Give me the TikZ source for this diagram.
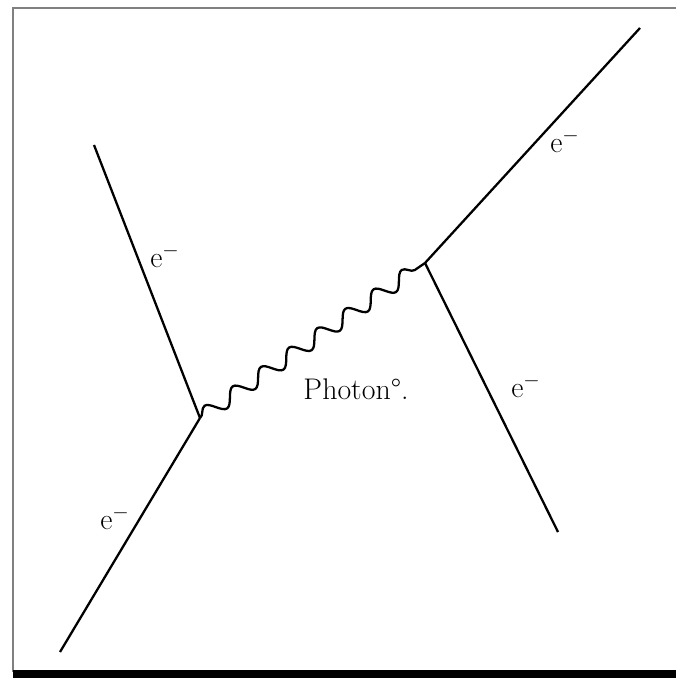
\documentclass[tikz,border=0pt]{standalone}
\usepackage{fontspec}
\usetikzlibrary{decorations.pathmorphing}

\begin{document}
\begin{tikzpicture}[
    x=0.02cm, y=-0.02cm,
    fermion/.style={draw, line width=1.3pt},
    photon/.style={draw, line width=1.3pt, decorate,
        decoration={snake, segment length=34.2*0.02cm, amplitude=0.15cm}},
    label/.style={font=\fontsize{17}{20}\selectfont, inner sep=0pt}
]
\useasboundingbox (0,0) rectangle (676,678);

% Frame
\draw[gray, line width=1pt] (13,672) -- (13,8) -- (676,8);
\draw[black, line width=4pt] (13,674) -- (676,674);

% Vertices and free ends
\coordinate (V1) at (200,418);
\coordinate (V2) at (425,263);
\coordinate (A) at (94,145);
\coordinate (B) at (60,652);
\coordinate (C) at (640,28);
\coordinate (D) at (558,532);

% Electron lines
\draw[fermion] (A) -- (V1);
\draw[fermion] (B) -- (V1);
\draw[fermion] (V2) -- (C);
\draw[fermion] (V2) -- (D);

% Photon
\draw[photon] (V1) -- (V2);

% Labels
\node[label] (eA) at (165,256) {e$^-$};
\node[label] (eB) at (115,518) {e$^-$};
\node[label] (eC) at (565,141) {e$^-$};
\node[label] (eD) at (526,386) {e$^-$};
\node[label] (ph) at (356,389) {Photon°.};

\end{tikzpicture}
\end{document}
